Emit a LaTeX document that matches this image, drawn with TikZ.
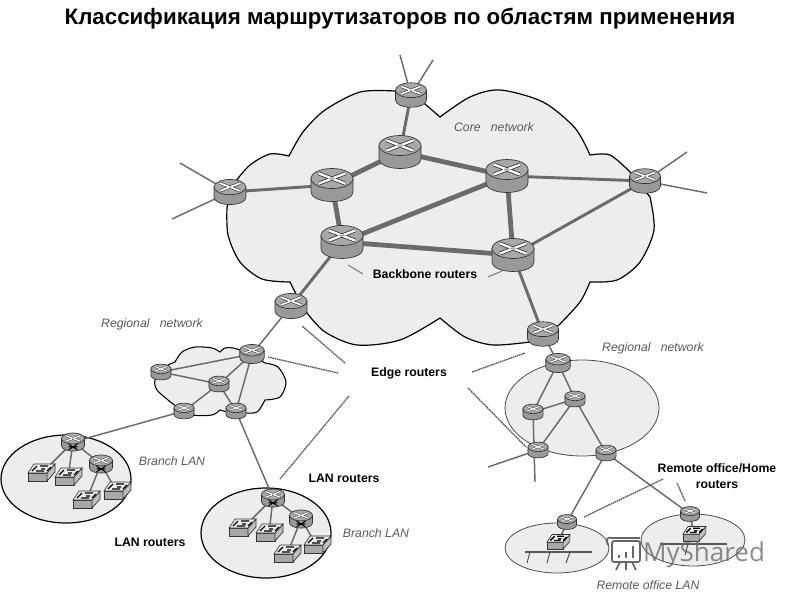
\documentclass[tikz,border=0pt]{standalone}
\usepackage{fontspec}
\setmainfont{Liberation Sans}
\newfontfamily\wmfont{Open Sans}
\definecolor{areafill}{gray}{0.93}
\definecolor{linkgray}{gray}{0.42}
\definecolor{bodygray}{gray}{0.6}
\definecolor{topgray}{gray}{0.66}
\definecolor{labgray}{gray}{0.35}
\tikzset{
 corelink/.style={draw=linkgray,line width=3.6pt},
 midlink/.style={draw=linkgray,line width=2.2pt},
 thinlink/.style={draw=linkgray,line width=1.1pt},
 leader/.style={draw=gray!70!black,line width=1pt,dash pattern=on 1.2pt off .5pt},
 blab/.style={font=\bfseries\fontsize{9.2}{11.5}\selectfont,align=center,inner sep=0pt},
 ilab/.style={font=\itshape\fontsize{9.2}{11}\selectfont,text=labgray,inner sep=0pt},
 area/.style={draw=black,fill=areafill,line width=.9pt},
 areathin/.style={draw=black!70,fill=areafill,line width=.6pt},
}
% router at named coordinate #1, scale #2 (1 = radius 21 px)
\newcommand{\rtr}[2]{%
 \begin{scope}[shift={(#1)},scale=#2]
  \draw[fill=bodygray,line width=.5pt,draw=black!80] (-21,-6.5)--(-21,6.5) .. controls (-21,19.8) and (21,19.8) .. (21,6.5)--(21,-6.5)--cycle;
  \draw[fill=topgray,line width=.5pt,draw=black!80] (0,-6.5) ellipse [x radius=15.75pt,y radius=7.5pt];
  \draw[black!80,line width=#2*2.9pt] (-13,-11.5)--(13,-1.5) (13,-11.5)--(-13,-1.5);
  \draw[white,line width=#2*1.7pt] (-13,-11.5)--(13,-1.5) (13,-11.5)--(-13,-1.5);
  \fill[topgray] (0,-6.5) ellipse [x radius=#2*2.5pt,y radius=#2*.9pt];
 \end{scope}}
% LAN router: taller, with a dark mark on its body
\newcommand{\lanrtr}[2]{%
 \rtr{#1}{#2}
 \begin{scope}[shift={(#1)},scale=#2]
  \draw[black,line width=.7pt] (-8,4)--(8,14) (8,4)--(-8,14) (-8,9)--(8,9);
 \end{scope}}
% switch box
\newcommand{\swt}[2]{%
 \begin{scope}[shift={(#1)},scale=#2]
  \draw[fill=bodygray!85,line width=.5pt,draw=black!80] (-13,-1)--(6,-1)--(6,7)--(-13,7)--cycle;
  \draw[fill=gray!50,line width=.5pt,draw=black!80] (6,-1)--(14,-10)--(14,-2)--(6,7)--cycle;
  \draw[fill=gray!15,line width=.5pt,draw=black!80] (-13,-1)--(-7,-10)--(14,-10)--(6,-1)--cycle;
  \draw[black,line width=1pt] (-9,-3)--(-4,-8) (-5,-3)--(3,-3) (-1,-8)--(7,-8) (0,-5)--(4,-5) (6,-3)--(10,-7);
 \end{scope}}
\begin{document}
\begin{tikzpicture}[x=.75pt,y=-.75pt]
\useasboundingbox (0,0) rectangle (800,600);
% ---- positions
\coordinate (etop) at (411,95);
\coordinate (ctop) at (400,152);
\coordinate (cleft) at (332,185);
\coordinate (cright) at (507,176);
\coordinate (clow) at (342,242);
\coordinate (clowr) at (513,255);
\coordinate (eleft) at (230,192);
\coordinate (eright) at (645,181);
\coordinate (ebl) at (291,306);
\coordinate (ebr) at (543,334);
\coordinate (ra) at (252,354);
\coordinate (rb) at (161,372);
\coordinate (rc) at (219,384);
\coordinate (rd) at (184,411);
\coordinate (rf) at (236,411);
\coordinate (la) at (73,442);
\coordinate (lb) at (101,464);
\coordinate (s1) at (41,474);
\coordinate (s2) at (68,478);
\coordinate (s3) at (86,501);
\coordinate (s4) at (117,492);
\coordinate (ma) at (273,498);
\coordinate (mb) at (301,519);
\coordinate (t1) at (242,529);
\coordinate (t2) at (269,534);
\coordinate (t3) at (287,555);
\coordinate (t4) at (317,546);
\coordinate (qa) at (558,363);
\coordinate (qb) at (575,399);
\coordinate (qc) at (533,412);
\coordinate (qd) at (538,450);
\coordinate (qe) at (606,453);
\coordinate (ho1) at (567,522);
\coordinate (ho2) at (690,514);
\coordinate (sw1) at (558,543);
\coordinate (sw2) at (694,535);
% free ends
\coordinate (f1) at (400,55);
\coordinate (f2) at (433,60);
\coordinate (f3) at (180,163);
\coordinate (f4) at (172,219);
\coordinate (f5) at (687,152);
\coordinate (f6) at (707,193);
\coordinate (f7) at (488,467);
\coordinate (f8) at (535,482);
% ---- areas
\path[area]
 plot[smooth] coordinates {(395,91)(360,92)(325,110)(303,132)(289,156)}
 -- plot[smooth] coordinates {(289,156)(270,154)(250,165)(235,182)}
 -- plot[smooth] coordinates {(227,207)(228,235)(240,262)(262,279)(290,282)}
 -- (297,296)
 -- plot[smooth] coordinates {(307,313)(325,332)(357,345)(400,340)(440,318)}
 -- plot[smooth] coordinates {(440,318)(465,337)(493,345)(530,342)}
 -- plot[smooth] coordinates {(559,325)(580,302)(590,282)}
 -- plot[smooth] coordinates {(590,282)(617,280)(640,262)(654,230)(650,197)}
 -- plot[smooth] coordinates {(630,172)(610,155)(590,155)}
 -- plot[smooth] coordinates {(590,155)(575,128)(543,102)(500,90)(470,97)(440,117)}
 -- (425,104) -- cycle;
\path[area,line width=.8pt]
 plot[smooth] coordinates {(240,350)(233,348)(225,348)(220,352)}
 -- plot[smooth] coordinates {(220,352)(212,348)(195,347)(182,352)(175,362)}
 -- plot[smooth] coordinates {(175,362)(165,367)(155,380)(157,390)(168,400)(177,407)}
 -- plot[smooth] coordinates {(177,407)(193,415)(212,415)(220,410)}
 -- plot[smooth] coordinates {(220,410)(227,412)}
 -- plot[smooth] coordinates {(227,412)(243,413)(257,412)(265,400)}
 -- plot[smooth] coordinates {(265,400)(280,397)(286,382)(278,367)(265,363)}
 -- cycle;
\draw[area] (66,479) ellipse [x radius=48.75pt,y radius=33pt];
\draw[area] (266,533) ellipse [x radius=48.75pt,y radius=33.75pt];
\draw[areathin] (582,408) ellipse [x radius=57.75pt,y radius=36pt];
\draw[areathin] (557,548) ellipse [x radius=39pt,y radius=18.75pt];
\draw[areathin] (693,540) ellipse [x radius=39pt,y radius=19.5pt];
% ---- links
\draw[midlink] (etop)--(ctop) (cleft)--(eleft) (cright)--(eright) (clowr)--(eright) (clow)--(ebl) (clowr)--(ebr);
\draw[corelink] (ctop)--(cleft) (ctop)--(cright) (cleft)--(clow) (cright)--(clow) (cright)--(clowr) (clow)--(clowr);
\draw[thinlink] (etop)--(f1) (etop)--(f2) (eleft)--(f3) (eleft)--(f4) (eright)--(f5) (eright)--(f6);
\draw[thinlink] (ebl)--(ra) (ra)--(rb) (ra)--(rc) (ra)--(rf) (rb)--(rc) (rc)--(rd) (rc)--(rf) (rd)--(la) (rf)--(ma);
\draw[thinlink] (ebr)--(qa) (qa)--(qb) (qa)--(qc) (qb)--(qc) (qc)--(f8) (qb)--(qd) (qb)--(qe) (qd)--(f7) (qe)--(ho1) (qe)--(ho2);
\draw[thinlink] (la)--(s1) (la)--(s2) (la)--(lb) (lb)--(s3) (lb)--(s4);
\draw[thinlink] (ma)--(t1) (ma)--(t2) (ma)--(mb) (mb)--(t3) (mb)--(t4);
\draw[thinlink] (ho1)--(sw1) (ho2)--(sw2);
% ---- LAN buses
\coordinate (b1l) at (525,552); \coordinate (b1r) at (592,552);
\coordinate (b2l) at (660,544); \coordinate (b2r) at (727,544);
\draw[black!65,line width=2pt] (b1l)--(b1r) (b2l)--(b2r);
\coordinate (k1) at (527,563); \coordinate (k1t) at (530,552);
\coordinate (k2) at (547,563); \coordinate (k2t) at (550,552);
\coordinate (k3) at (566,563); \coordinate (k3t) at (570,552);
\coordinate (k4) at (685,555); \coordinate (k4t) at (688,544);
\draw[black!70,line width=.7pt] (k1t)--(k1) (k2t)--(k2) (k3t)--(k3) (k4t)--(k4);
% ---- devices
\rtr{etop}{.74} \rtr{ctop}{1} \rtr{cleft}{1} \rtr{cright}{1} \rtr{clow}{1} \rtr{clowr}{1}
\rtr{eleft}{.76} \rtr{eright}{.74} \rtr{ebl}{.76} \rtr{ebr}{.74}
\rtr{ra}{.58} \rtr{rb}{.48} \rtr{rc}{.48} \rtr{rd}{.48} \rtr{rf}{.48}
\lanrtr{la}{.55} \lanrtr{lb}{.55} \lanrtr{ma}{.55} \lanrtr{mb}{.55}
\swt{s1}{1} \swt{s2}{1} \swt{s3}{1} \swt{s4}{1}
\swt{t1}{1} \swt{t2}{1} \swt{t3}{1} \swt{t4}{1}
\rtr{qa}{.58} \rtr{qb}{.48} \rtr{qc}{.48} \rtr{qd}{.48} \rtr{qe}{.48}
\rtr{ho1}{.45} \rtr{ho2}{.45}
\swt{sw1}{.85} \swt{sw2}{.85}
% ---- text
\node[font=\bfseries\fontsize{16.75}{20}\selectfont,inner sep=0pt] (title) at (400,19) {Классификация маршрутизаторов по областям применения};
\node[ilab] (lcore) at (494,127) {Core\ \ \ network};
\node[ilab] (lreg1) at (152,324) {Regional\ \ \ network};
\node[ilab] (lreg2) at (653,348) {Regional\ \ \ network};
\node[ilab] (lbr1) at (172,461) {Branch LAN};
\node[ilab] (lbr2) at (376,533) {Branch LAN};
\node[ilab] (lrem) at (648,585) {Remote office LAN};
\node[blab] (lback) at (425,274) {Backbone routers};
\node[blab] (ledge) at (409,373) {Edge routers};
\node[blab] (llan1) at (344,478) {LAN routers};
\node[blab] (llan2) at (150,542) {LAN routers};
\node[blab] (lrem2) at (717,476) {Remote office/Home\\routers};
% ---- leaders
\coordinate (e1) at (302,326); \coordinate (e1s) at (345,363);
\coordinate (e2) at (268,357); \coordinate (e2s) at (338,373);
\coordinate (e3) at (280,479); \coordinate (e3s) at (349,396);
\coordinate (e4) at (525,353); \coordinate (e4s) at (472,372);
\coordinate (e5) at (526,447); \coordinate (e5s) at (468,388);
\coordinate (e6) at (584,517); \coordinate (e6s) at (663,479);
\coordinate (e7) at (685,501); \coordinate (e7s) at (677,483);
\coordinate (e8) at (348,265); \coordinate (e8s) at (363,274);
\coordinate (e9) at (502,271); \coordinate (e9s) at (488,277);
\draw[leader] (e1s)--(e1) (e2s)--(e2) (e3s)--(e3) (e4s)--(e4) (e5s)--(e5) (e6s)--(e6) (e7s)--(e7);
\draw[gray,line width=.8pt] (e8s)--(e8) (e9s)--(e9);
% ---- watermark
\begin{scope}[draw=black!60,line width=1.3pt]
 \draw[rounded corners=1.5pt] (612,541) rectangle (640,562);
 \draw (612,538)--(640,538);
 \draw (608,545) .. controls (605,538) and (608,537) .. (612,538);
 \draw (620,562)--(616,570) (632,562)--(636,570) (626,562)--(626,570);
 \draw[line width=2pt] (619,558)--(619,555) (626,558)--(626,552) (633,558)--(633,546);
\end{scope}
\node[font=\wmfont\fontsize{19.5}{22}\selectfont,text=black!60,opacity=.75,inner sep=0pt] (wm) at (704,555) {MyShared};
\end{tikzpicture}
\end{document}
